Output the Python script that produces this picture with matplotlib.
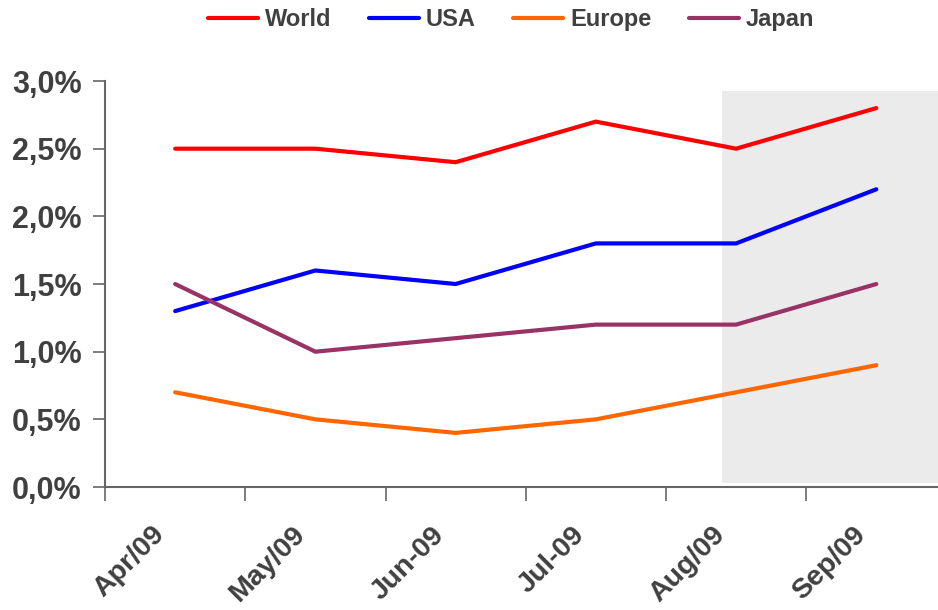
import numpy as np
import matplotlib
matplotlib.use("Agg")
import matplotlib.pyplot as plt
from matplotlib.patches import Rectangle
from matplotlib.ticker import FuncFormatter
from matplotlib.transforms import ScaledTranslation

plt.rcParams["font.family"] = ["Liberation Sans", "DejaVu Sans"]
plt.rcParams["font.weight"] = "bold"

months = ["Apr/09", "May/09", "Jun-09", "Jul-09", "Aug/09", "Sep/09"]
world = [2.5, 2.5, 2.4, 2.7, 2.5, 2.8]
usa = [1.3, 1.6, 1.5, 1.8, 1.8, 2.2]
europe = [0.7, 0.5, 0.4, 0.5, 0.7, 0.9]
japan = [1.5, 1.0, 1.1, 1.2, 1.2, 1.5]

TEXT = "#404040"
AXIS = "#666666"

fig = plt.figure(figsize=(9.38, 6.10), dpi=100)
ax = fig.add_axes([0.112, 0.2016, 0.888, 0.6656])

x = np.arange(len(months))

# shaded forecast block
ax.add_patch(Rectangle((3.898, 0.03), 3.0, 2.895, facecolor="#ebebeb",
                       edgecolor="none", zorder=0))

series = [("World", world, "#ff0000"), ("USA", usa, "#0000ff"),
          ("Europe", europe, "#ff6600"), ("Japan", japan, "#993366")]
for name, vals, col in series:
    ax.plot(x, vals, color=col, lw=3.0, label=name,
            solid_capstyle="round", solid_joinstyle="miter", zorder=3)

ax.set_xlim(-0.5, 5.44)
ax.set_ylim(0, 3.0)
ax.set_yticks(np.arange(0, 3.01, 0.5))
ax.yaxis.set_major_formatter(FuncFormatter(lambda v, p: f"{v:.1f}%".replace(".", ",")))

# category boundaries as ticks, labels centred between them
ax.set_xticks(np.arange(-0.5, 5.0, 1.0))
ax.set_xticklabels([])
ax.set_xticks(x, minor=True)
ax.set_xticklabels(months, minor=True, rotation=45, ha="right",
                   rotation_mode="anchor")
ax.tick_params(axis="x", which="minor", length=0, pad=22,
               labelsize=20.5, labelcolor=TEXT)
ax.tick_params(axis="x", which="major", length=10, width=1.2,
               color=AXIS, direction="out")
ax.tick_params(axis="y", length=9, width=1.2, color=AXIS, pad=8,
               labelsize=22, labelcolor=TEXT)
shift = ScaledTranslation(-0.24, -0.04, fig.dpi_scale_trans)
for lab in ax.get_xticklabels(minor=True):
    lab.set_fontweight("bold")
    lab.set_transform(lab.get_transform() + shift)
for lab in ax.get_yticklabels():
    lab.set_fontweight("bold")

for s in ("top", "right"):
    ax.spines[s].set_visible(False)
for s in ("left", "bottom"):
    ax.spines[s].set_color(AXIS)
    ax.spines[s].set_linewidth(1.5)

leg = fig.legend(loc="upper center", bbox_to_anchor=(0.545, 1.022), ncol=4,
                 frameon=False, handlelength=2.1, handletextpad=0.3,
                 columnspacing=1.6, prop={"size": 17, "weight": "bold"})
for t in leg.get_texts():
    t.set_color(TEXT)

fig.savefig("out.png", dpi=100, facecolor="white")
